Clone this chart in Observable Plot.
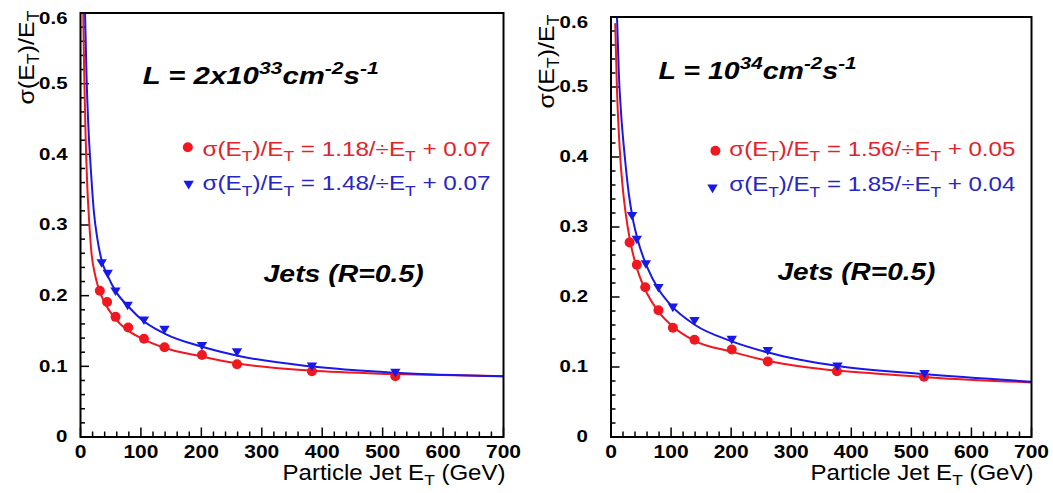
<!DOCTYPE html>
<html>
<head>
<meta charset="utf-8">
<script src="https://cdn.jsdelivr.net/npm/d3@7"></script>
<script src="https://cdn.jsdelivr.net/npm/@observablehq/plot@0.6"></script>
<style>
html, body { margin: 0; padding: 0; background: #fff; }
#wrap { position: relative; width: 1053px; height: 493px; overflow: hidden; background: #fff; }
#wrap > svg { position: absolute; top: 0; }
</style>
</head>
<body>
<div id="wrap"></div>
<script>
// ---------------- data ----------------
const xTicks = [0, 100, 200, 300, 400, 500, 600, 700];
const xMinorTicks = [20, 40, 60, 80, 120, 140, 160, 180, 220, 240, 260, 280, 320, 340, 360, 380,
  420, 440, 460, 480, 520, 540, 560, 580, 620, 640, 660, 680];
const yTicks = [0, 0.1, 0.2, 0.3, 0.4, 0.5, 0.6];
const yMinorTicks = [0.02, 0.04, 0.06, 0.08, 0.12, 0.14, 0.16, 0.18, 0.22, 0.24, 0.26, 0.28,
  0.32, 0.34, 0.36, 0.38, 0.42, 0.44, 0.46, 0.48, 0.52, 0.54, 0.56, 0.58];

// Left panel: L = 2x10^33
const lowRedE   = [32, 44, 58, 79, 105, 139, 201, 259, 383, 521];
const lowRedRes = [0.207, 0.191, 0.170, 0.155, 0.139, 0.127, 0.116, 0.103, 0.093, 0.086];
const lowBlueE   = [35, 45, 58, 78, 105, 139, 201, 259, 383, 521];
const lowBlueRes = [0.246, 0.231, 0.206, 0.186, 0.165, 0.152, 0.129, 0.120, 0.100, 0.091];
const lowRedFitE   = [4.5, 6, 8, 11, 14, 18, 24, 30, 40, 55, 75, 100, 140, 200, 260, 380, 520, 700];
const lowRedFitRes = [0.60, 0.52, 0.44, 0.36, 0.31, 0.262, 0.23, 0.21, 0.19, 0.17, 0.153, 0.14, 0.126, 0.114, 0.104, 0.094, 0.089, 0.086];
const lowBlueFitE   = [7.5, 10, 13, 17, 22, 28, 35, 45, 60, 80, 100, 140, 200, 260, 380, 520, 700];
const lowBlueFitRes = [0.60, 0.51, 0.44, 0.38, 0.32, 0.28, 0.25, 0.228, 0.204, 0.184, 0.167, 0.146, 0.128, 0.115, 0.100, 0.091, 0.086];

// Right panel: L = 10^34
const highRedE   = [31, 43, 57, 79, 103, 139, 201, 261, 376, 521];
const highRedRes = [0.278, 0.246, 0.214, 0.181, 0.156, 0.139, 0.125, 0.108, 0.094, 0.086];
const highBlueE   = [35, 43, 58, 79, 103, 139, 201, 261, 377, 522];
const highBlueRes = [0.316, 0.282, 0.247, 0.213, 0.185, 0.166, 0.139, 0.123, 0.101, 0.090];
const highRedFitE   = [7, 10, 13, 16, 20, 25, 31, 40, 50, 60, 80, 100, 140, 200, 260, 350, 450, 550, 700];
const highRedFitRes = [0.59, 0.495, 0.435, 0.392, 0.352, 0.316, 0.284, 0.25, 0.224, 0.205, 0.178, 0.16, 0.137, 0.122, 0.109, 0.097, 0.090, 0.084, 0.078];
const highBlueFitE   = [10, 13, 17, 23, 30, 36, 45, 60, 80, 100, 140, 200, 260, 380, 520, 700];
const highBlueFitRes = [0.60, 0.52, 0.46, 0.40, 0.345, 0.313, 0.28, 0.243, 0.21, 0.188, 0.16, 0.137, 0.121, 0.101, 0.090, 0.079];

// texts
const yTitle = "σ(E_{T})/E_{T}";
const xTitle = "Particle Jet E_{T} (GeV)";
const jetsLabel = "Jets (R=0.5)";
const lowLumiLabel = "L = 2x10^{33}cm^{-2}s^{-1}";
const highLumiLabel = "L = 10^{34}cm^{-2}s^{-1}";
const lowRedLegend = "σ(E_{T})/E_{T} = 1.18/÷E_{T} + 0.07";
const lowBlueLegend = "σ(E_{T})/E_{T} = 1.48/÷E_{T} + 0.07";
const highRedLegend = "σ(E_{T})/E_{T} = 1.56/÷E_{T} + 0.05";
const highBlueLegend = "σ(E_{T})/E_{T} = 1.85/÷E_{T} + 0.04";

// ---------------- styling ----------------
const FONT = '"Liberation Sans", Arial, Helvetica, sans-serif';
const RED = "#f01820", BLUE = "#1818e8", RED_TXT = "#e4222a", BLUE_TXT = "#2626c4";

const triangleDown = {
  draw(ctx, size) {
    const r = Math.sqrt(size / Math.PI);
    ctx.moveTo(-r, -0.75 * r);
    ctx.lineTo(r, -0.75 * r);
    ctx.lineTo(0, 0.9 * r);
    ctx.closePath();
  }
};

const zip = (a, b) => a.map((e, i) => ({e, v: b[i]}));

const panels = [
  {
    left: 0, width: 527, ml: 80, mr: 24, mt: 12.5, mb: 56.5, yPad: 13, yTitleDx: -47,
    red: zip(lowRedE, lowRedRes), blue: zip(lowBlueE, lowBlueRes),
    redFit: zip(lowRedFitE, lowRedFitRes), blueFit: zip(lowBlueFitE, lowBlueFitRes),
    lumi: lowLumiLabel, lumiX: 103, lumiY: 0.5, lumiW: 236,
    legRed: lowRedLegend, legBlue: lowBlueLegend, legX: 202, legY1: 0.398, legY2: 0.349, legW: 288,
    mk1: [177.6, 0.41], mk2: [179, 0.357],
    jetsX: 303, jetsY: 0.219, jetsW: 160
  },
  {
    left: 527, width: 526, ml: 83.5, mr: 22, mt: 16.5, mb: 56.5, yPad: 23, yTitleDx: -57.5,
    red: zip(highRedE, highRedRes), blue: zip(highBlueE, highBlueRes),
    redFit: zip(highRedFitE, highRedFitRes), blueFit: zip(highBlueFitE, highBlueFitRes),
    lumi: highLumiLabel, lumiX: 79, lumiY: 0.511, lumiW: 198,
    legRed: highRedLegend, legBlue: highBlueLegend, legX: 197, legY1: 0.402, legY2: 0.351, legW: 286,
    mk1: [173.8, 0.409], mk2: [169, 0.355],
    jetsX: 277, jetsY: 0.225, jetsW: 158
  }
];

function makePanel(p) {
  const plotW = p.width - p.ml - p.mr;
  const plotH = 493 - p.mt - p.mb;
  const tick = {stroke: "#000", strokeWidth: 1.5};
  return Plot.plot({
    width: p.width, height: 493,
    marginLeft: p.ml, marginRight: p.mr, marginTop: p.mt, marginBottom: p.mb,
    style: {fontFamily: FONT, background: "transparent", color: "#000", overflow: "visible"},
    x: {type: "linear", domain: [0, 700]},
    y: {type: "linear", domain: [0, 0.6]},
    marks: [
      Plot.tickX(xMinorTicks, {x: d => d, insetTop: plotH - 5, ...tick}),
      Plot.tickX(xTicks, {x: d => d, insetTop: plotH - 9, ...tick}),
      Plot.tickY(yMinorTicks, {y: d => d, insetRight: plotW - 5, ...tick}),
      Plot.tickY(yTicks, {y: d => d, insetRight: plotW - 9, ...tick}),
      Plot.line(p.redFit, {x: "e", y: "v", stroke: RED, strokeWidth: 2, curve: "monotone-x", clip: true}),
      Plot.line(p.blueFit, {x: "e", y: "v", stroke: BLUE, strokeWidth: 2, curve: "monotone-x", clip: true}),
      Plot.dot(p.red, {x: "e", y: "v", r: 5, fill: RED, stroke: "none", symbol: "circle"}),
      Plot.dot(p.blue, {x: "e", y: "v", r: 5.2, fill: BLUE, stroke: "none", symbol: triangleDown}),
      Plot.dot([p.mk1], {x: d => d[0], y: d => d[1], r: 5, fill: RED, stroke: "none", symbol: "circle"}),
      Plot.dot([p.mk2], {x: d => d[0], y: d => d[1], r: 5.2, fill: BLUE, stroke: "none", symbol: triangleDown}),
      Plot.text([p.lumi], {x: p.lumiX, y: p.lumiY, text: d => d, textAnchor: "start", lineAnchor: "bottom",
        fontSize: 23.5, fontWeight: "bold", fontStyle: "italic", fill: "#000"}),
      Plot.text([p.legRed], {x: p.legX, y: p.legY1, text: d => d, textAnchor: "start", lineAnchor: "bottom",
        fontSize: 21, fill: RED_TXT}),
      Plot.text([p.legBlue], {x: p.legX, y: p.legY2, text: d => d, textAnchor: "start", lineAnchor: "bottom",
        fontSize: 21, fill: BLUE_TXT}),
      Plot.text([jetsLabel], {x: p.jetsX, y: p.jetsY, text: d => d, textAnchor: "start", lineAnchor: "bottom",
        fontSize: 23.5, fontWeight: "bold", fontStyle: "italic", fill: "#000"}),
      Plot.text([xTitle], {frameAnchor: "bottom-right", dx: 2, dy: 42.5, text: d => d, textAnchor: "end",
        lineAnchor: "bottom", fontSize: 21.5, fill: "#000"}),
      Plot.text([yTitle], {frameAnchor: "top-left", dx: p.yTitleDx, dy: -2.5, rotate: -90, text: d => d,
        textAnchor: "end", lineAnchor: "bottom", fontSize: 22, fill: "#000"}),
      Plot.axisX({ticks: xTicks, tickSize: 0, tickPadding: 8.5, fontSize: 17.5, fontWeight: "bold",
        tickFormat: d => String(d), label: null}),
      Plot.axisY({ticks: yTicks, tickSize: 0, tickPadding: p.yPad, fontSize: 17, fontWeight: "bold",
        tickFormat: d => String(d), label: null}),
      Plot.frame({stroke: "#000", strokeWidth: 2})
    ]
  });
}

// rich text: _{..} subscript, ^{..} superscript
function richify(t) {
  const raw = t.textContent;
  if (!/[_^]\{/.test(raw)) return;
  const fs = parseFloat(getComputedStyle(t).fontSize) || 16;
  while (t.firstChild) t.removeChild(t.firstChild);
  const re = /([_^])\{([^}]*)\}/g;
  let last = 0, m, cur = 0;
  const add = (str, kind) => {
    if (!str) return;
    const ts = document.createElementNS("http://www.w3.org/2000/svg", "tspan");
    const target = kind === "sub" ? 0.25 * fs : kind === "sup" ? -0.42 * fs : 0;
    const dy = target - cur;
    if (dy !== 0) ts.setAttribute("dy", dy.toFixed(2));
    cur = target;
    if (kind) ts.setAttribute("font-size", (0.72 * fs).toFixed(2));
    ts.textContent = str;
    t.appendChild(ts);
  };
  while ((m = re.exec(raw))) {
    add(raw.slice(last, m.index), null);
    add(m[2], m[1] === "_" ? "sub" : "sup");
    last = re.lastIndex;
  }
  add(raw.slice(last), null);
}

function stretch(t, factor, target) {
  const len = t.getComputedTextLength();
  if (!len) return;
  t.setAttribute("textLength", (target != null ? target : len * factor).toFixed(1));
  t.setAttribute("lengthAdjust", "spacingAndGlyphs");
}

const wrap = document.getElementById("wrap");
for (const p of panels) {
  const svg = makePanel(p);
  svg.style.left = p.left + "px";
  wrap.appendChild(svg);
  const targets = new Map([
    [p.lumi, p.lumiW], [p.legRed, p.legW], [p.legBlue, p.legW],
    [jetsLabel, p.jetsW], [xTitle, 223], [yTitle, 94]
  ]);
  svg.querySelectorAll("text").forEach(t => {
    const raw = t.textContent;
    const parentLabel = t.parentNode && t.parentNode.getAttribute ? t.parentNode.getAttribute("aria-label") : null;
    richify(t);
    if (targets.has(raw)) {
      stretch(t, 1, targets.get(raw));
    } else if (parentLabel === "x-axis tick label" || parentLabel === "y-axis tick label") {
      stretch(t, 1.2);
      if (parentLabel === "y-axis tick label" && raw === "0.6") {
        const g = document.createElementNS("http://www.w3.org/2000/svg", "g");
        g.setAttribute("transform", "translate(0,6)");
        t.parentNode.insertBefore(g, t);
        g.appendChild(t);
      }
    }
  });
}
</script>
</body>
</html>
